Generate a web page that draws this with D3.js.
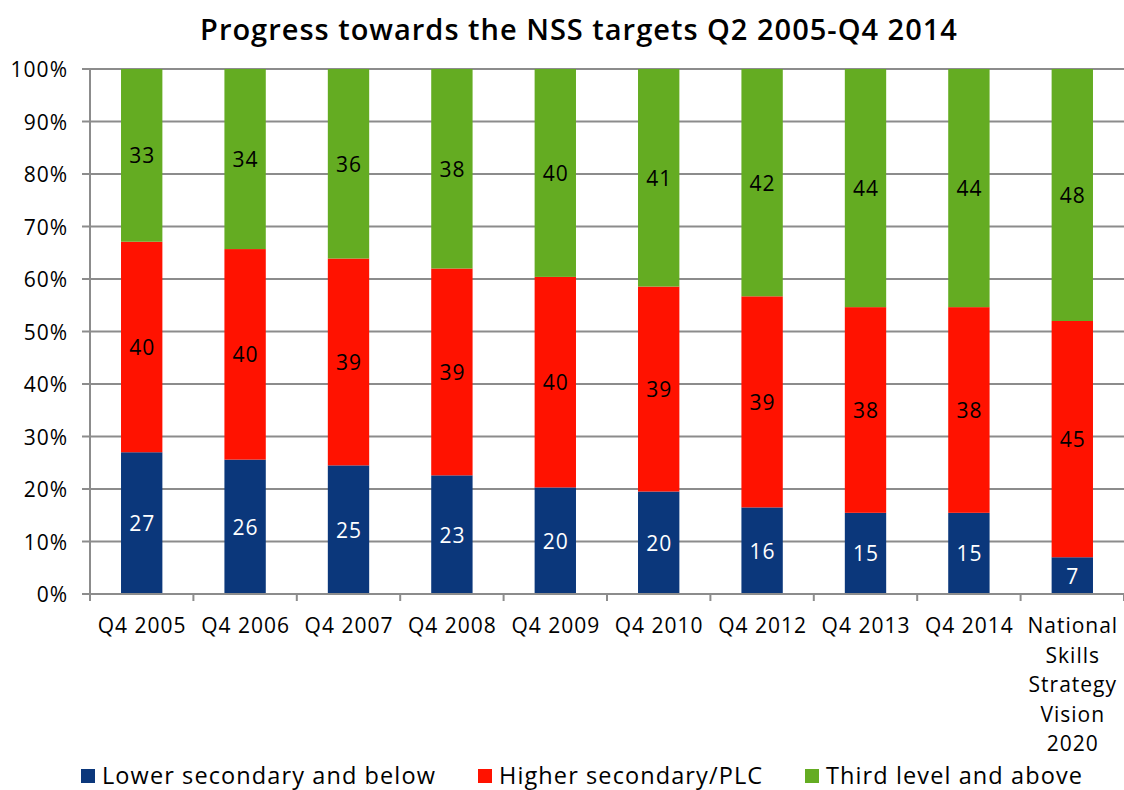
<!DOCTYPE html>
<html>
<head>
<meta charset="utf-8">
<script src="https://cdn.jsdelivr.net/npm/d3@7"></script>
<style>
  body { margin: 0; background: #fff; }
  svg { display: block; font-family: "Open Sans", Lato, sans-serif; letter-spacing: 1px; }
</style>
</head>
<body>
<svg id="chart" width="1124" height="790"></svg>
<script>
// Categories and series (shares, %, stacked to 100%)
const categories = ["Q4 2005", "Q4 2006", "Q4 2007", "Q4 2008", "Q4 2009", "Q4 2010", "Q4 2012", "Q4 2013", "Q4 2014", "National Skills Strategy Vision 2020"];
const lowerSecondary = [27.0, 25.6, 24.5, 22.6, 20.3, 19.5, 16.0, 15.0, 15.0, 7.0];
const higherSecondary = [40.1, 40.1, 39.4, 39.4, 40.1, 39.0, 39.0, 38.0, 38.0, 45.0];
const thirdLevel = [32.9, 34.3, 36.1, 38.0, 39.6, 41.4, 42.0, 44.0, 44.0, 48.0];
const seriesNames = ["Lower secondary and below", "Higher secondary/PLC", "Third level and above"];
const colors = ["#0b377b", "#ff1200", "#64ac22"];
const labelColors = ["#fff", "#000", "#000"];
const yTicks = [0, 0.1, 0.2, 0.3, 0.4, 0.5, 0.6, 0.7, 0.8, 0.9, 1];

// Multi-line labels for the x axis
const labelLines = {
  "National Skills Strategy Vision 2020": ["National", "Skills", "Strategy", "Vision", "2020"]
};

const rows = categories.map((c, i) => ({
  cat: c,
  s0: lowerSecondary[i],
  s1: higherSecondary[i],
  s2: thirdLevel[i]
}));
const keys = ["s0", "s1", "s2"];

const margin = { top: 69, right: 0, bottom: 196, left: 90 };
const width = 1124, height = 790;

const svg = d3.select("#chart");

const x = d3.scaleBand()
  .domain(categories)
  .range([margin.left, width - margin.right])
  .paddingInner(0.6)
  .paddingOuter(0.3);

const y = d3.scaleLinear()
  .domain([0, 1])
  .range([height - margin.bottom, margin.top]);

// Title
svg.append("text")
  .attr("x", 579)
  .attr("y", 40)
  .attr("text-anchor", "middle")
  .attr("font-size", 29)
  .attr("font-weight", 600)
  .text("Progress towards the NSS targets Q2 2005-Q4 2014");

// Grid lines
svg.append("g")
  .selectAll("line")
  .data(yTicks)
  .join("line")
  .attr("x1", margin.left - 8)
  .attr("x2", width)
  .attr("y1", d => y(d))
  .attr("y2", d => y(d))
  .attr("stroke", "#8c8c8c")
  .attr("stroke-width", 2);

// Y axis labels
svg.append("g")
  .selectAll("text")
  .data(yTicks)
  .join("text")
  .attr("x", 68)
  .attr("y", d => y(d) + 8)
  .attr("text-anchor", "end")
  .attr("font-size", 21)
  .text(d => d3.format(".0%")(d));

// Stacked bars
const stack = d3.stack().keys(keys).offset(d3.stackOffsetExpand);
const layers = stack(rows);

const layer = svg.append("g")
  .selectAll("g")
  .data(layers)
  .join("g")
  .attr("fill", (d, i) => colors[i]);

layer.selectAll("rect")
  .data(d => d)
  .join("rect")
  .attr("x", d => x(d.data.cat))
  .attr("width", x.bandwidth())
  .attr("y", d => y(d[1]))
  .attr("height", d => y(d[0]) - y(d[1]));

// Data labels
layers.forEach((L, i) => {
  svg.append("g")
    .selectAll("text")
    .data(L)
    .join("text")
    .attr("x", d => x(d.data.cat) + x.bandwidth() / 2 + 0.5)
    .attr("y", d => y((d[0] + d[1]) / 2) + 8)
    .attr("text-anchor", "middle")
    .attr("font-size", 21)
    .attr("fill", labelColors[i])
    .text(d => Math.round(d.data[keys[i]]));
});

// Axis lines
const y0 = y(0);
svg.append("line")
  .attr("x1", margin.left).attr("x2", margin.left)
  .attr("y1", y(1)).attr("y2", y0 + 7)
  .attr("stroke", "#8c8c8c").attr("stroke-width", 2);

svg.append("line")
  .attr("x1", margin.left).attr("x2", width)
  .attr("y1", y0).attr("y2", y0)
  .attr("stroke", "#8c8c8c").attr("stroke-width", 2);

// X tick marks at band boundaries
const step = x.step();
svg.append("g")
  .selectAll("line")
  .data(categories)
  .join("line")
  .attr("x1", d => x(d) + x.bandwidth() / 2 + step / 2)
  .attr("x2", d => x(d) + x.bandwidth() / 2 + step / 2)
  .attr("y1", y0)
  .attr("y2", y0 + 7)
  .attr("stroke", "#8c8c8c")
  .attr("stroke-width", 2);

// X labels
const xl = svg.append("g")
  .selectAll("text")
  .data(categories)
  .join("text")
  .attr("x", d => x(d) + x.bandwidth() / 2 + 0.5)
  .attr("y", 633)
  .attr("text-anchor", "middle")
  .attr("font-size", 21);

xl.selectAll("tspan")
  .data(d => labelLines[d] || [d])
  .join("tspan")
  .attr("x", function () { return d3.select(this.parentNode).attr("x"); })
  .attr("dy", (d, i) => i === 0 ? 0 : 29.5)
  .text(d => d);

// Legend
const legendX = [81, 478, 805];
const legend = svg.append("g")
  .selectAll("g")
  .data(seriesNames)
  .join("g")
  .attr("transform", (d, i) => `translate(${legendX[i]},769)`);

legend.append("rect")
  .attr("width", 14)
  .attr("height", 14)
  .attr("fill", (d, i) => colors[i]);

legend.append("text")
  .attr("x", 21)
  .attr("y", 15)
  .attr("font-size", 23.5)
  .style("letter-spacing", "1.1px")
  .text(d => d);
</script>
</body>
</html>
